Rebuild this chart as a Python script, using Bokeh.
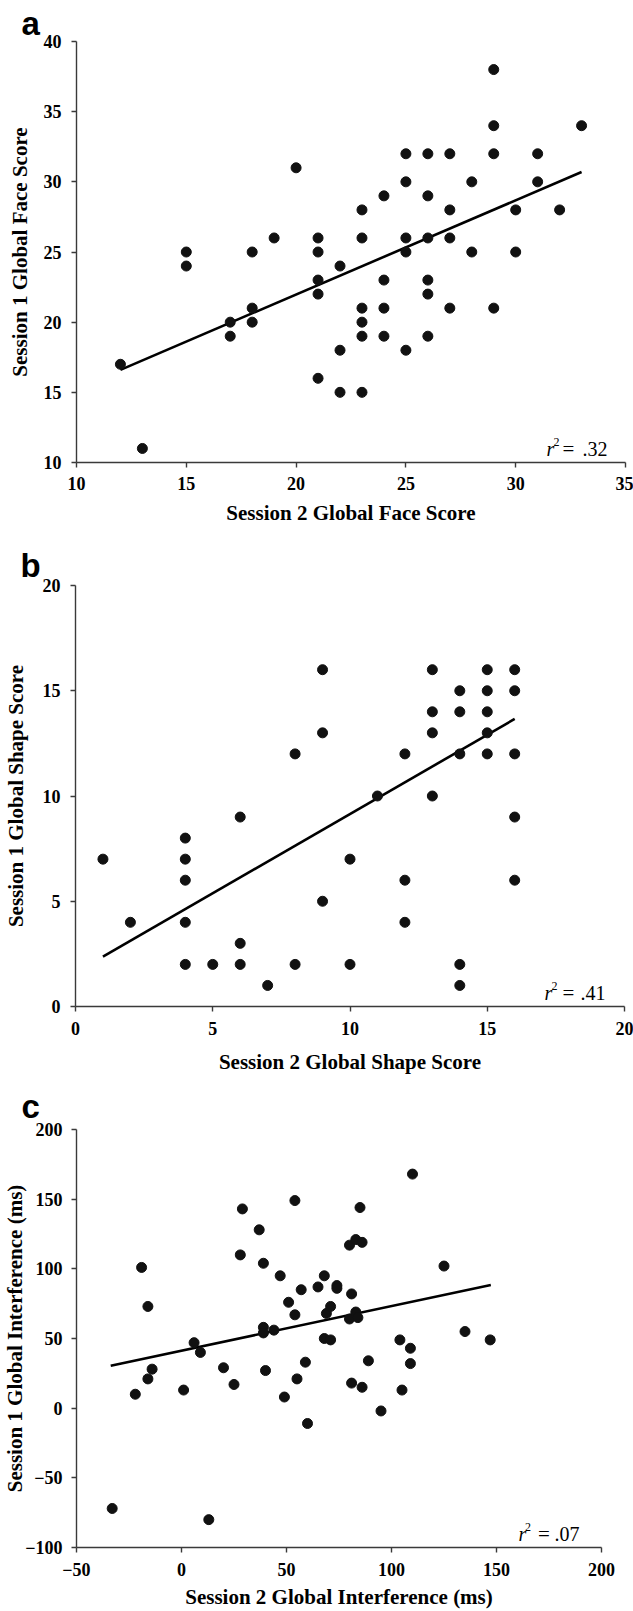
import numpy as np
from bokeh.plotting import figure
from bokeh.models import Range1d, FixedTicker, Label
from bokeh.embed import file_html
from bokeh.resources import INLINE

# ---------------- data ----------------
# Panel a: Global Face Score
face_s2 = [12, 13, 15, 15, 17, 17, 18, 18, 18, 19, 20, 21, 21, 21, 21, 21,
           22, 22, 22, 23, 23, 23, 23, 23, 23, 24, 24, 24, 24, 25, 25, 25, 25, 25,
           26, 26, 26, 26, 26, 26, 27, 27, 27, 27, 28, 28, 29, 29, 29, 29,
           30, 30, 31, 31, 32, 33]
face_s1 = [17, 11, 25, 24, 20, 19, 25, 21, 20, 26, 31, 26, 25, 23, 22, 16,
           24, 18, 15, 28, 26, 21, 20, 19, 15, 29, 23, 21, 19, 32, 30, 26, 25, 18,
           32, 29, 26, 23, 22, 19, 32, 28, 26, 21, 30, 25, 38, 34, 32, 21,
           28, 25, 32, 30, 28, 34]
face_fit_x = [12, 33]
face_fit_y = [16.6, 30.7]
face_r2 = ".32"

# Panel b: Global Shape Score
shape_s2 = [1, 2, 4, 4, 4, 4, 4, 5, 6, 6, 6, 7, 8, 8, 9, 9, 9, 10, 10, 11,
            12, 12, 12, 13, 13, 13, 13, 14, 14, 14, 14, 14, 15, 15, 15, 15, 15,
            16, 16, 16, 16, 16]
shape_s1 = [7, 4, 8, 7, 6, 4, 2, 2, 9, 3, 2, 1, 12, 2, 16, 13, 5, 7, 2, 10,
            12, 6, 4, 16, 14, 13, 10, 15, 14, 12, 2, 1, 16, 15, 14, 13, 12,
            16, 15, 12, 9, 6]
shape_fit_x = [1, 16]
shape_fit_y = [2.37, 13.66]
shape_r2 = ".41"

# Panel c: Global Interference (ms)
intf_s2 = [-33, -22, -19, -16, -16, -14, 1, 6, 9, 13, 20, 25, 28, 29, 37, 39,
           39, 39, 40, 44, 47, 49, 51, 54, 54, 55, 57, 59, 60, 65, 68, 68, 69,
           71, 71, 74, 74, 80, 80, 81, 81, 83, 83, 84, 85, 86, 86, 89, 95, 104,
           105, 109, 109, 110, 125, 135, 147]
intf_s1 = [-72, 10, 101, 73, 21, 28, 13, 47, 40, -80, 29, 17, 110, 143, 128, 104,
           58, 54, 27, 56, 95, 8, 76, 67, 149, 21, 85, 33, -11, 87, 95, 50, 68,
           73, 49, 88, 86, 117, 64, 82, 18, 69, 121, 65, 144, 119, 15, 34, -2, 49,
           13, 43, 32, 168, 102, 55, 49]
intf_fit_x = [-33.7, 147.3]
intf_fit_y = [30.5, 88.4]
intf_r2 = ".07"

face_ticks_x = [10, 15, 20, 25, 30, 35]
face_ticks_y = [10, 15, 20, 25, 30, 35, 40]
shape_ticks = [0, 5, 10, 15, 20]
intf_ticks_x = [-50, 0, 50, 100, 150, 200]
intf_ticks_y = [-100, -50, 0, 50, 100, 150, 200]

SERIF = "Liberation Serif"
SANS = "Liberation Sans"
AXIS_COL = "#3a3a3a"


def panel(xs, ys, fit_x, fit_y, r2, xr, yr, xt, yt, xlabel, ylabel, letter,
          height, top, bottom, left, right, letter_standoff,
          ylab_standoff, ytick_standoff, xtick_standoff, xlab_standoff, r2_offsets):
    p = figure(width=633, height=height, output_backend="svg", toolbar_location=None,
               x_range=Range1d(*xr), y_range=Range1d(*yr),
               min_border_top=top, min_border_bottom=bottom,
               min_border_left=left, min_border_right=right)
    p.outline_line_color = None
    p.xgrid.visible = False
    p.ygrid.visible = False
    p.background_fill_color = "white"
    p.border_fill_color = "white"

    for ax in (p.xaxis[0], p.yaxis[0]):
        ax.axis_line_color = AXIS_COL
        ax.axis_line_width = 1.4
        ax.major_tick_line_color = AXIS_COL
        ax.major_tick_line_width = 1.4
        ax.major_tick_out = 5
        ax.major_tick_in = 0
        ax.minor_tick_line_color = None
        ax.major_label_text_font = SERIF
        ax.major_label_text_font_style = "bold"
        ax.major_label_text_font_size = "18px"
        ax.major_label_text_color = "black"
        ax.axis_label_text_font = SERIF
        ax.axis_label_text_font_style = "bold"
        ax.axis_label_text_font_size = "21px"
        ax.axis_label_text_color = "black"

    p.xaxis.ticker = FixedTicker(ticks=xt)
    p.yaxis.ticker = FixedTicker(ticks=yt)
    p.xaxis.axis_label = xlabel
    p.yaxis.axis_label = ylabel
    p.xaxis.major_label_standoff = xtick_standoff
    p.yaxis.major_label_standoff = ytick_standoff
    p.xaxis.axis_label_standoff = xlab_standoff
    p.yaxis.axis_label_standoff = ylab_standoff

    # panel letter as a left-aligned title
    p.title.text = letter
    p.title.align = "left"
    p.title.offset = -55
    p.title.standoff = letter_standoff
    p.title.text_font = SANS
    p.title.text_font_style = "bold"
    p.title.text_font_size = "33px"
    p.title.text_color = "black"

    p.line(fit_x, fit_y, line_color="black", line_width=2.6)
    p.scatter(xs, ys, size=10, fill_color="#111111", line_color="#111111")

    # r^2 annotation anchored at bottom-right of the frame
    ax_r, ay_b = xr[1], yr[0]
    o_r, o_2, o_eq, o_val = r2_offsets
    common = dict(x=ax_r, y=ay_b, text_font=SERIF, text_color="black",
                  text_baseline="alphabetic")
    p.add_layout(Label(x_offset=o_r, y_offset=13.5, text="r",
                       text_font_style="italic", text_font_size="20px", **common))
    p.add_layout(Label(x_offset=o_2, y_offset=21, text="2",
                       text_font_size="12px", **common))
    p.add_layout(Label(x_offset=o_eq, y_offset=13.5, text="=",
                       text_font_size="21px", **common))
    p.add_layout(Label(x_offset=o_val, y_offset=13.5, text=r2,
                       text_font_size="20px", **common))
    return p


pa = panel(face_s2, face_s1, face_fit_x, face_fit_y, face_r2, (10, 35), (10, 40),
           face_ticks_x, face_ticks_y, "Session 2 Global Face Score",
           "Session 1 Global Face Score", "a",
           height=540, top=41, bottom=78, left=76, right=8, letter_standoff=0,
           ylab_standoff=9, ytick_standoff=10, xtick_standoff=9, xlab_standoff=8,
           r2_offsets=(-79, -72, -63, -43))
pb = panel(shape_s2, shape_s1, shape_fit_x, shape_fit_y, shape_r2, (0, 20), (0, 20),
           shape_ticks, shape_ticks, "Session 2 Global Shape Score",
           "Session 1 Global Shape Score", "b",
           height=540, top=45, bottom=74, left=75, right=9, letter_standoff=4,
           ylab_standoff=12, ytick_standoff=10, xtick_standoff=10, xlab_standoff=12,
           r2_offsets=(-80, -73, -62, -44))
pc = panel(intf_s2, intf_s1, intf_fit_x, intf_fit_y, intf_r2, (-50, 200), (-100, 200),
           intf_ticks_x, intf_ticks_y, "Session 2 Global Interference (ms)",
           "Session 1 Global Interference (ms)", "c",
           height=531, top=48, bottom=61, left=75, right=32, letter_standoff=10,
           ylab_standoff=-5, ytick_standoff=9, xtick_standoff=10, xlab_standoff=6,
           r2_offsets=(-83, -76.5, -63.5, -47))

open("out.html", "w").write(file_html([pa, pb, pc], INLINE))
